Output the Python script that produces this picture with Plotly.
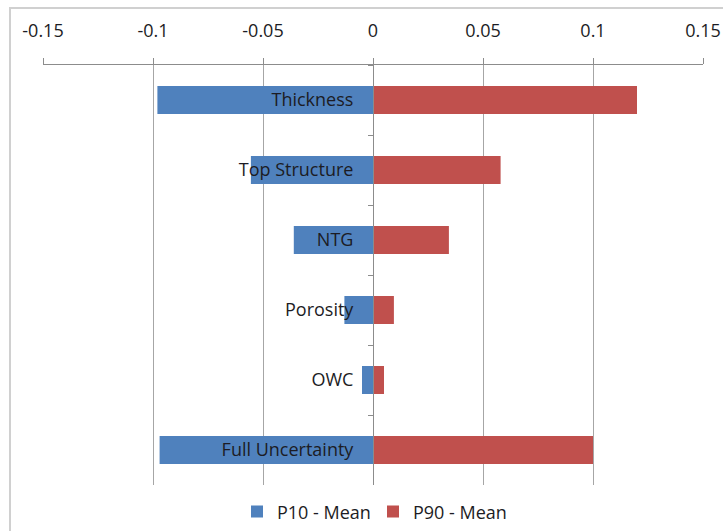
import plotly.graph_objects as go

categories = ["Thickness", "Top Structure", "NTG", "Porosity", "OWC", "Full Uncertainty"]
p10_mean = [-0.098, -0.0555, -0.036, -0.013, -0.005, -0.097]
p90_mean = [0.120, 0.058, 0.0345, 0.0095, 0.005, 0.100]
x_ticks = [-0.15, -0.1, -0.05, 0, 0.05, 0.1, 0.15]
x_tick_text = ["-0.15", "-0.1", "-0.05", "0", "0.05", "0.1", "0.15"]

BLUE = "#4F81BD"
RED = "#C0504D"
FONT = "Open Sans"
FS = 18

fig = go.Figure()
fig.add_trace(go.Bar(y=categories, x=p10_mean, orientation="h", name="P10 - Mean",
                     marker=dict(color=BLUE, line=dict(width=0))))
fig.add_trace(go.Bar(y=categories, x=p90_mean, orientation="h", name="P90 - Mean",
                     marker=dict(color=RED, line=dict(width=0))))

W, H = 723, 531
L, R, T, B = 43, 20, 65, 46
pw, ph = W - L - R, H - T - B

fig.update_layout(
    width=W, height=H,
    margin=dict(l=L, r=R, t=T, b=B, pad=0, autoexpand=False),
    barmode="relative",
    bargap=0.6,
    paper_bgcolor="white",
    plot_bgcolor="white",
    font=dict(family=FONT, size=FS, color="#1c1c24"),
    showlegend=True,
    legend=dict(orientation="h", x=0.5, xanchor="center", y=-0.064, yanchor="middle",
                font=dict(size=FS, family=FONT), traceorder="normal",
                entrywidth=91, entrywidthmode="pixels"),
    xaxis=dict(
        side="top", range=[-0.15, 0.15], tickvals=x_ticks, ticktext=x_tick_text,
        showgrid=True, gridcolor="#A6A6A6", gridwidth=1,
        showline=True, linecolor="#8C8C8C", linewidth=1,
        ticks="outside", ticklen=6, tickcolor="#8C8C8C",
        zeroline=False, ticklabelstandoff=14, automargin=False,
        tickfont=dict(size=FS, family=FONT),
    ),
    yaxis=dict(
        type="category", categoryorder="array", categoryarray=categories,
        autorange="reversed", anchor="free", position=0.5,
        showgrid=False, zeroline=False, automargin=False,
        showline=True, linecolor="#8C8C8C", linewidth=1,
        ticks="outside", ticklen=5, tickcolor="#8C8C8C", tickson="boundaries",
        ticklabelstandoff=16,
        tickfont=dict(size=FS, family=FONT),
    ),
    shapes=[dict(type="rect", xref="paper", yref="paper",
                 x0=(10 - L) / pw, x1=1.2, y0=-0.3, y1=(H - B - 8) / ph,
                 line=dict(color="#D0D0D0", width=2), fillcolor="rgba(0,0,0,0)", layer="below")],
)

fig.write_html("out.html", config={"displayModeBar": False},
               post_script="document.body.style.margin='0px';")
